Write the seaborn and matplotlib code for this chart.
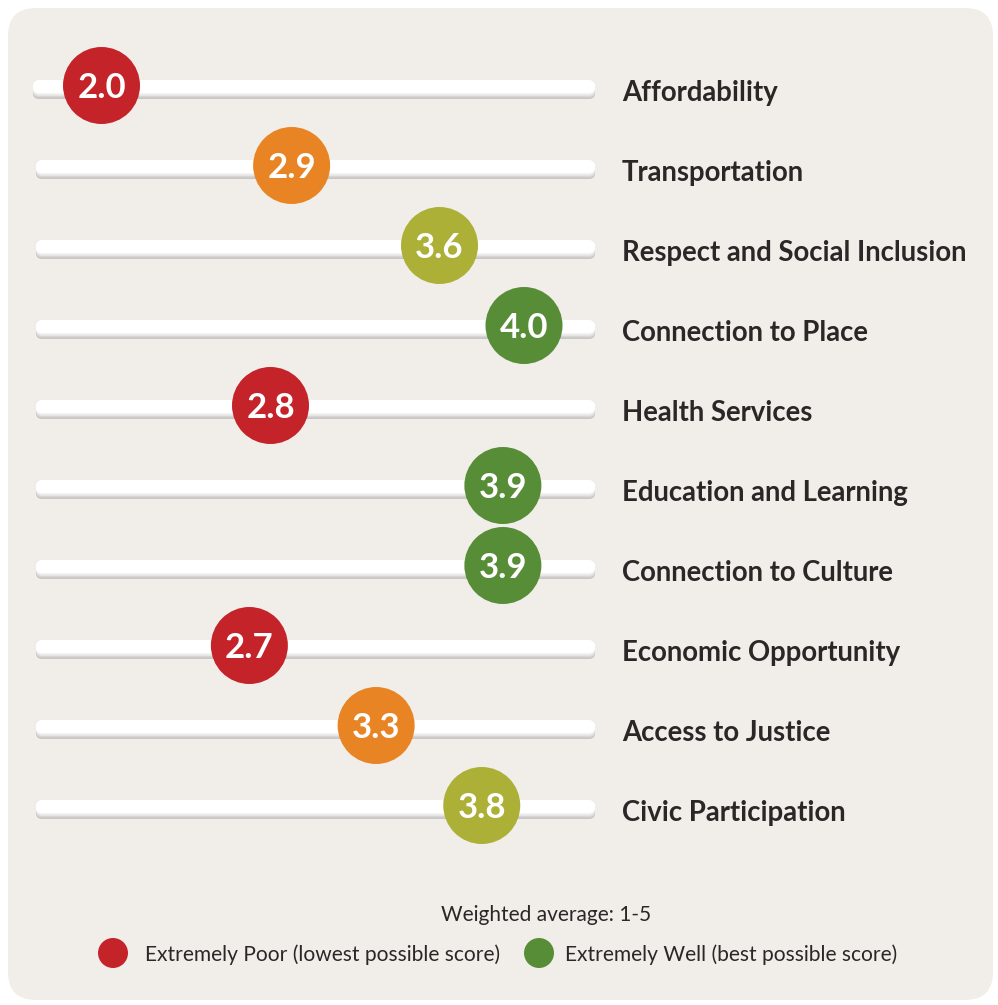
import matplotlib
matplotlib.use('Agg')
import matplotlib.pyplot as plt
import seaborn as sns
import numpy as np
import pandas as pd
from matplotlib.patches import FancyBboxPatch, Circle

# ---------------- data ----------------
categories = ["Affordability", "Transportation", "Respect and Social Inclusion",
              "Connection to Place", "Health Services", "Education and Learning",
              "Connection to Culture", "Economic Opportunity", "Access to Justice",
              "Civic Participation"]
scores = [2.0, 2.9, 3.6, 4.0, 2.8, 3.9, 3.9, 2.7, 3.3, 3.8]
scale_note = "Weighted average: 1-5"
legend_labels = ["Extremely Poor (lowest possible score)",
                 "Extremely Well (best possible score)"]

# ---------------- style ----------------
sns.set_theme(style="white")
FONT = ["Lato", "DejaVu Sans"]
plt.rcParams['font.family'] = FONT

band_edges = [2.85, 3.45, 3.85]
band_names = ["poor", "fair", "good", "well"]
band_colors = {"poor": "#c4232a", "fair": "#e88424", "good": "#adb036", "well": "#588d38"}
PANEL = "#f1eeea"
TEXT_DARK = "#2b2727"

W, H, DPI = 998, 1005, 100
fig = plt.figure(figsize=(W / DPI, H / DPI), dpi=DPI)
fig.patch.set_facecolor("white")
ax = fig.add_axes([0, 0, 1, 1])
ax.set_axis_off()
ax.patch.set_alpha(0)

# value -> pixel layout: score 2 at x=101.5px, score 4 at x=524px
PX_A, PX_B = 101.5, 524.0
ppu = (PX_B - PX_A) / 2.0
ax.set_xlim(2 - PX_A / ppu, 2 + (W - PX_A) / ppu)
ROW0, ROWH = 89.5, 80.0
ax.set_ylim((H - ROW0) / ROWH, -ROW0 / ROWH)

inch = fig.dpi_scale_trans

# background panel
ax.add_patch(FancyBboxPatch((8 / DPI, 5 / DPI), 985 / DPI, 992 / DPI,
                            boxstyle="round,pad=0,rounding_size=0.28",
                            transform=inch, fc=PANEL, ec="none", zorder=0))

df = pd.DataFrame({"category": categories, "score": scores})
df["row"] = np.arange(len(df))
df["band"] = [band_names[int(np.searchsorted(band_edges, s))] for s in df["score"]]
df["yc"] = df["row"] - 4.0 / ROWH   # circles sit slightly above the track centre

# tracks (white rounded bars with soft bottom shadow)
TX0, TX1, TH = 36.0, 595.0, 19.0
for i in df["row"]:
    yc = ROW0 + ROWH * i
    x0 = TX0 - (3 if i == 0 else 0)
    top = H - (yc - TH / 2)
    layers = [(TH, "#c6c5c3"), (TH - 1.5, "#d6d5d3"), (TH - 3, "#e6e5e4"),
              (TH - 4.5, "#f4f4f3"), (TH - 6, "#ffffff")]
    for hh, col in layers:
        ax.add_patch(FancyBboxPatch((x0 / DPI, (top - hh) / DPI), (TX1 - x0) / DPI, hh / DPI,
                                    boxstyle="round,pad=0,rounding_size=%f" % (min(6, hh / 2) / DPI),
                                    transform=inch, fc=col, ec="none", zorder=1))

# circles
R_PX = 38.5
s_pts = (2 * R_PX * 72 / DPI) ** 2
sns.scatterplot(data=df, x="score", y="yc", hue="band", palette=band_colors,
                s=s_pts, linewidth=0, legend=False, ax=ax, zorder=3)

for _, r in df.iterrows():
    ax.text(r["score"], r["yc"] + 12.5 / ROWH, f"{r['score']:.1f}", ha="center", va="baseline",
            color="white", fontsize=25, fontweight="bold", family=FONT, zorder=4)
    ax.text(2 + (622 - PX_A) / ppu, r["row"] + 11.5 / ROWH, r["category"], ha="left",
            va="baseline", color=TEXT_DARK, fontsize=19.8, fontweight="bold",
            family=FONT, zorder=4)

# legend / note
fig.text(546 / W, 1 - 921 / H, scale_note, ha="center", va="baseline",
         fontsize=15, color=TEXT_DARK, family=FONT)
leg = [(113, band_colors["poor"], legend_labels[0], 145),
       (539, band_colors["well"], legend_labels[1], 565)]
for cx, col, lab, tx in leg:
    ax.add_patch(Circle((cx / DPI, (H - 953) / DPI), 15 / DPI, transform=inch,
                        fc=col, ec="none", zorder=3))
    fig.text(tx / W, 1 - 961 / H, lab, ha="left", va="baseline",
             fontsize=15.1, color=TEXT_DARK, family=FONT)

fig.savefig("out.png", dpi=DPI, facecolor="white")
